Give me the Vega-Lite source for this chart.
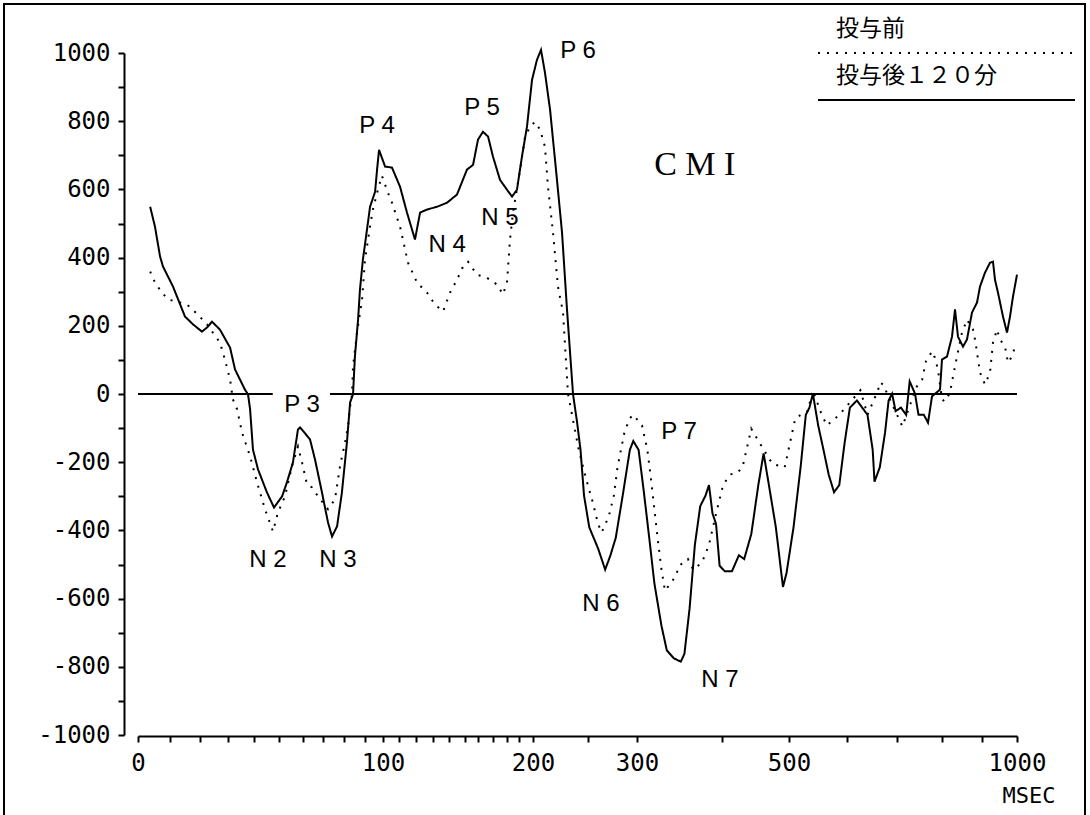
{
  "$schema": "https://vega.github.io/schema/vega-lite/v6.json",
  "width": 1081,
  "height": 820,
  "autosize": {"type": "none"},
  "padding": {"left": 4, "top": 4, "right": 5, "bottom": 0},
  "background": "white",
  "config": {
    "view": {"stroke": "#000", "strokeWidth": 2},
    "axis": {"grid": false}
  },
  "datasets": {
    "curves": [
      {"t":3.8,"v":549,"s":"投与後１２０分"},{"t":5.3,"v":491,"s":"投与後１２０分"},{"t":6.9,"v":403,"s":"投与後１２０分"},{"t":7.8,"v":374,"s":"投与後１２０分"},{"t":11,"v":315,"s":"投与後１２０分"},{"t":15,"v":227,"s":"投与後１２０分"},{"t":17.7,"v":204,"s":"投与後１２０分"},{"t":20.7,"v":183,"s":"投与後１２０分"},{"t":22.5,"v":195,"s":"投与後１２０分"},{"t":24.3,"v":212,"s":"投与後１２０分"},{"t":27.1,"v":189,"s":"投与後１２０分"},{"t":30.8,"v":136,"s":"投与後１２０分"},{"t":32.7,"v":72,"s":"投与後１２０分"},{"t":36.5,"v":13,"s":"投与後１２０分"},{"t":37.7,"v":-1,"s":"投与後１２０分"},{"t":38.5,"v":-45,"s":"投与後１２０分"},{"t":39.6,"v":-163,"s":"投与後１２０分"},{"t":41.6,"v":-221,"s":"投与後１２０分"},{"t":45.2,"v":-289,"s":"投与後１２０分"},{"t":48,"v":-333,"s":"投与後１２０分"},{"t":51.3,"v":-300,"s":"投与後１２０分"},{"t":53.3,"v":-259,"s":"投与後１２０分"},{"t":55.8,"v":-201,"s":"投与後１２０分"},{"t":57.9,"v":-104,"s":"投与後１２０分"},{"t":58.8,"v":-98,"s":"投与後１２０分"},{"t":63.5,"v":-133,"s":"投与後１２０分"},{"t":66,"v":-192,"s":"投与後１２０分"},{"t":69.5,"v":-289,"s":"投与後１２０分"},{"t":72.4,"v":-377,"s":"投与後１２０分"},{"t":74.3,"v":-418,"s":"投与後１２０分"},{"t":76.7,"v":-388,"s":"投与後１２０分"},{"t":79,"v":-289,"s":"投与後１２０分"},{"t":81.4,"v":-142,"s":"投与後１２０分"},{"t":82.9,"v":-25,"s":"投与後１２０分"},{"t":84.3,"v":-1,"s":"投与後１２０分"},{"t":85.2,"v":110,"s":"投与後１２０分"},{"t":86.7,"v":218,"s":"投与後１２０分"},{"t":87.6,"v":306,"s":"投与後１２０分"},{"t":89,"v":394,"s":"投与後１２０分"},{"t":91.1,"v":482,"s":"投与後１２０分"},{"t":92.8,"v":549,"s":"投与後１２０分"},{"t":95.6,"v":593,"s":"投与後１２０分"},{"t":96.7,"v":658,"s":"投与後１２０分"},{"t":97.8,"v":716,"s":"投与後１２０分"},{"t":101.3,"v":667,"s":"投与後１２０分"},{"t":105.6,"v":664,"s":"投与後１２０分"},{"t":110.6,"v":608,"s":"投与後１２０分"},{"t":114.7,"v":532,"s":"投与後１２０分"},{"t":119.4,"v":453,"s":"投与後１２０分"},{"t":122.4,"v":532,"s":"投与後１２０分"},{"t":126.5,"v":541,"s":"投与後１２０分"},{"t":132.5,"v":549,"s":"投与後１２０分"},{"t":138.8,"v":561,"s":"投与後１２０分"},{"t":145,"v":585,"s":"投与後１２０分"},{"t":151.5,"v":658,"s":"投与後１２０分"},{"t":156.2,"v":672,"s":"投与後１２０分"},{"t":160,"v":746,"s":"投与後１２０分"},{"t":163.3,"v":769,"s":"投与後１２０分"},{"t":166.7,"v":755,"s":"投与後１２０分"},{"t":170,"v":696,"s":"投与後１２０分"},{"t":175,"v":628,"s":"投与後１２０分"},{"t":180,"v":599,"s":"投与後１２０分"},{"t":184.2,"v":579,"s":"投与後１２０分"},{"t":188.3,"v":599,"s":"投与後１２０分"},{"t":192.1,"v":696,"s":"投与後１２０分"},{"t":195.7,"v":784,"s":"投与後１２０分"},{"t":199.3,"v":921,"s":"投与後１２０分"},{"t":203.6,"v":980,"s":"投与後１２０分"},{"t":207.3,"v":1009,"s":"投与後１２０分"},{"t":210.9,"v":942,"s":"投与後１２０分"},{"t":215.5,"v":834,"s":"投与後１２０分"},{"t":221.8,"v":628,"s":"投与後１２０分"},{"t":226.4,"v":473,"s":"投与後１２０分"},{"t":230.9,"v":248,"s":"投与後１２０分"},{"t":236.4,"v":-1,"s":"投与後１２０分"},{"t":240,"v":-81,"s":"投与後１２０分"},{"t":243.2,"v":-164,"s":"投与後１２０分"},{"t":246.4,"v":-298,"s":"投与後１２０分"},{"t":251.3,"v":-391,"s":"投与後１２０分"},{"t":260.3,"v":-453,"s":"投与後１２０分"},{"t":267.5,"v":-515,"s":"投与後１２０分"},{"t":272.9,"v":-473,"s":"投与後１２０分"},{"t":278.3,"v":-422,"s":"投与後１２０分"},{"t":285.4,"v":-298,"s":"投与後１２０分"},{"t":292.7,"v":-164,"s":"投与後１２０分"},{"t":296.2,"v":-138,"s":"投与後１２０分"},{"t":301.9,"v":-164,"s":"投与後１２０分"},{"t":308.1,"v":-288,"s":"投与後１２０分"},{"t":314.4,"v":-422,"s":"投与後１２０分"},{"t":320.5,"v":-556,"s":"投与後１２０分"},{"t":328.8,"v":-680,"s":"投与後１２０分"},{"t":335.1,"v":-752,"s":"投与後１２０分"},{"t":343.3,"v":-775,"s":"投与後１２０分"},{"t":351.5,"v":-785,"s":"投与後１２０分"},{"t":355.8,"v":-762,"s":"投与後１２０分"},{"t":361.9,"v":-628,"s":"投与後１２０分"},{"t":368.1,"v":-442,"s":"投与後１２０分"},{"t":374.4,"v":-329,"s":"投与後１２０分"},{"t":380.6,"v":-298,"s":"投与後１２０分"},{"t":384.7,"v":-267,"s":"投与後１２０分"},{"t":388.8,"v":-350,"s":"投与後１２０分"},{"t":393,"v":-381,"s":"投与後１２０分"},{"t":397.2,"v":-504,"s":"投与後１２０分"},{"t":404.3,"v":-520,"s":"投与後１２０分"},{"t":414.8,"v":-520,"s":"投与後１２０分"},{"t":425.2,"v":-473,"s":"投与後１２０分"},{"t":433.1,"v":-484,"s":"投与後１２０分"},{"t":443.7,"v":-411,"s":"投与後１２０分"},{"t":454.2,"v":-267,"s":"投与後１２０分"},{"t":462.1,"v":-174,"s":"投与後１２０分"},{"t":470,"v":-267,"s":"投与後１２０分"},{"t":480.4,"v":-391,"s":"投与後１２０分"},{"t":491,"v":-566,"s":"投与後１２０分"},{"t":496.3,"v":-525,"s":"投与後１２０分"},{"t":507.8,"v":-391,"s":"投与後１２０分"},{"t":520,"v":-215,"s":"投与後１２０分"},{"t":529,"v":-61,"s":"投与後１２０分"},{"t":535.2,"v":-40,"s":"投与後１２０分"},{"t":541.2,"v":1,"s":"投与後１２０分"},{"t":550.3,"v":-92,"s":"投与後１２０分"},{"t":559.5,"v":-164,"s":"投与後１２０分"},{"t":568.4,"v":-236,"s":"投与後１２０分"},{"t":577.6,"v":-288,"s":"投与後１２０分"},{"t":586.7,"v":-267,"s":"投与後１２０分"},{"t":595.9,"v":-143,"s":"投与後１２０分"},{"t":605.8,"v":-40,"s":"投与後１２０分"},{"t":619.8,"v":-19,"s":"投与後１２０分"},{"t":630.4,"v":-40,"s":"投与後１２０分"},{"t":641,"v":-61,"s":"投与後１２０分"},{"t":651.4,"v":-164,"s":"投与後１２０分"},{"t":655,"v":-257,"s":"投与後１２０分"},{"t":665.6,"v":-215,"s":"投与後１２０分"},{"t":676.2,"v":-112,"s":"投与後１２０分"},{"t":683.2,"v":-19,"s":"投与後１２０分"},{"t":690.2,"v":1,"s":"投与後１２０分"},{"t":697.2,"v":-50,"s":"投与後１２０分"},{"t":708.7,"v":-40,"s":"投与後１２０分"},{"t":720.4,"v":-61,"s":"投与後１２０分"},{"t":728.2,"v":37,"s":"投与後１２０分"},{"t":740,"v":1,"s":"投与後１２０分"},{"t":747.8,"v":-61,"s":"投与後１２０分"},{"t":759.6,"v":-61,"s":"投与後１２０分"},{"t":768.9,"v":-84,"s":"投与後１２０分"},{"t":777.8,"v":-7,"s":"投与後１２０分"},{"t":795.6,"v":13,"s":"投与後１２０分"},{"t":800,"v":101,"s":"投与後１２０分"},{"t":812.5,"v":110,"s":"投与後１２０分"},{"t":825,"v":168,"s":"投与後１２０分"},{"t":832.5,"v":248,"s":"投与後１２０分"},{"t":840,"v":168,"s":"投与後１２０分"},{"t":852.5,"v":139,"s":"投与後１２０分"},{"t":862.5,"v":160,"s":"投与後１２０分"},{"t":875,"v":239,"s":"投与後１２０分"},{"t":887.5,"v":268,"s":"投与後１２０分"},{"t":895,"v":315,"s":"投与後１２０分"},{"t":908.6,"v":356,"s":"投与後１２０分"},{"t":922.9,"v":385,"s":"投与後１２０分"},{"t":931.4,"v":388,"s":"投与後１２０分"},{"t":937.1,"v":335,"s":"投与後１２０分"},{"t":945.7,"v":297,"s":"投与後１２０分"},{"t":960,"v":227,"s":"投与後１２０分"},{"t":971.4,"v":180,"s":"投与後１２０分"},{"t":980,"v":227,"s":"投与後１２０分"},{"t":988.6,"v":286,"s":"投与後１２０分"},{"t":1000,"v":350,"s":"投与後１２０分"},
      {"t":3.8,"v":359,"s":"投与前"},{"t":5.3,"v":327,"s":"投与前"},{"t":7.5,"v":297,"s":"投与前"},{"t":9.4,"v":277,"s":"投与前"},{"t":12.3,"v":271,"s":"投与前"},{"t":15.7,"v":262,"s":"投与前"},{"t":19.3,"v":233,"s":"投与前"},{"t":22.5,"v":204,"s":"投与前"},{"t":24.6,"v":180,"s":"投与前"},{"t":27.1,"v":151,"s":"投与前"},{"t":28.9,"v":101,"s":"投与前"},{"t":30.8,"v":42,"s":"投与前"},{"t":31.9,"v":-16,"s":"投与前"},{"t":33.5,"v":-45,"s":"投与前"},{"t":35.4,"v":-113,"s":"投与前"},{"t":38.5,"v":-183,"s":"投与前"},{"t":41.2,"v":-259,"s":"投与前"},{"t":44.4,"v":-338,"s":"投与前"},{"t":47.6,"v":-403,"s":"投与前"},{"t":49.6,"v":-347,"s":"投与前"},{"t":52.5,"v":-300,"s":"投与前"},{"t":55.4,"v":-212,"s":"投与前"},{"t":57.9,"v":-154,"s":"投与前"},{"t":59.6,"v":-201,"s":"投与前"},{"t":62,"v":-265,"s":"投与前"},{"t":64.5,"v":-274,"s":"投与前"},{"t":67.5,"v":-300,"s":"投与前"},{"t":72.4,"v":-338,"s":"投与前"},{"t":75.7,"v":-309,"s":"投与前"},{"t":78.1,"v":-212,"s":"投与前"},{"t":80.5,"v":-142,"s":"投与前"},{"t":81.9,"v":-95,"s":"投与前"},{"t":82.9,"v":-37,"s":"投与前"},{"t":83.8,"v":-1,"s":"投与前"},{"t":84.3,"v":81,"s":"投与前"},{"t":86.2,"v":180,"s":"投与前"},{"t":88.6,"v":277,"s":"投与前"},{"t":90,"v":394,"s":"投与前"},{"t":92.8,"v":491,"s":"投与前"},{"t":94.4,"v":541,"s":"投与前"},{"t":96.7,"v":590,"s":"投与前"},{"t":99.4,"v":640,"s":"投与前"},{"t":103.1,"v":590,"s":"投与前"},{"t":105.6,"v":561,"s":"投与前"},{"t":110.6,"v":491,"s":"投与前"},{"t":115.3,"v":385,"s":"投与前"},{"t":120.6,"v":327,"s":"投与前"},{"t":126.5,"v":297,"s":"投与前"},{"t":131.3,"v":262,"s":"投与前"},{"t":136.3,"v":242,"s":"投与前"},{"t":140.6,"v":297,"s":"投与前"},{"t":145,"v":335,"s":"投与前"},{"t":148.8,"v":374,"s":"投与前"},{"t":152.3,"v":388,"s":"投与前"},{"t":159.2,"v":350,"s":"投与前"},{"t":165.9,"v":341,"s":"投与前"},{"t":172.9,"v":321,"s":"投与前"},{"t":177.1,"v":292,"s":"投与前"},{"t":180,"v":327,"s":"投与前"},{"t":182.5,"v":453,"s":"投与前"},{"t":185,"v":532,"s":"投与前"},{"t":190.8,"v":658,"s":"投与前"},{"t":194.3,"v":754,"s":"投与前"},{"t":197.9,"v":784,"s":"投与前"},{"t":201.8,"v":798,"s":"投与前"},{"t":206.4,"v":775,"s":"投与前"},{"t":210.9,"v":725,"s":"投与前"},{"t":213.6,"v":608,"s":"投与前"},{"t":218.2,"v":473,"s":"投与前"},{"t":222.7,"v":315,"s":"投与前"},{"t":227.3,"v":239,"s":"投与前"},{"t":231.8,"v":1,"s":"投与前"},{"t":241.6,"v":-164,"s":"投与前"},{"t":248,"v":-246,"s":"投与前"},{"t":254.9,"v":-318,"s":"投与前"},{"t":260.3,"v":-381,"s":"投与前"},{"t":263.9,"v":-406,"s":"投与前"},{"t":271.1,"v":-360,"s":"投与前"},{"t":276.4,"v":-298,"s":"投与前"},{"t":280.1,"v":-215,"s":"投与前"},{"t":287.2,"v":-112,"s":"投与前"},{"t":292.7,"v":-71,"s":"投与前"},{"t":296.2,"v":-61,"s":"投与前"},{"t":305.9,"v":-92,"s":"投与前"},{"t":312.2,"v":-164,"s":"投与前"},{"t":316.3,"v":-246,"s":"投与前"},{"t":320.5,"v":-339,"s":"投与前"},{"t":324.7,"v":-432,"s":"投与前"},{"t":328.8,"v":-515,"s":"投与前"},{"t":332.9,"v":-577,"s":"投与前"},{"t":339.2,"v":-556,"s":"投与前"},{"t":345.4,"v":-535,"s":"投与前"},{"t":349.5,"v":-504,"s":"投与前"},{"t":359.9,"v":-484,"s":"投与前"},{"t":366.1,"v":-515,"s":"投与前"},{"t":376.5,"v":-494,"s":"投与前"},{"t":384.7,"v":-442,"s":"投与前"},{"t":393.1,"v":-350,"s":"投与前"},{"t":401.6,"v":-267,"s":"投与前"},{"t":412.1,"v":-236,"s":"投与前"},{"t":422.7,"v":-231,"s":"投与前"},{"t":430.6,"v":-215,"s":"投与前"},{"t":443.7,"v":-102,"s":"投与前"},{"t":459.4,"v":-154,"s":"投与前"},{"t":475.2,"v":-205,"s":"投与前"},{"t":493.6,"v":-215,"s":"投与前"},{"t":510.9,"v":-71,"s":"投与前"},{"t":532.1,"v":-50,"s":"投与前"},{"t":541.2,"v":11,"s":"投与前"},{"t":556.4,"v":-61,"s":"投与前"},{"t":565.5,"v":-92,"s":"投与前"},{"t":586.7,"v":-61,"s":"投与前"},{"t":609.2,"v":-19,"s":"投与前"},{"t":626.8,"v":11,"s":"投与前"},{"t":641,"v":-61,"s":"投与前"},{"t":662,"v":11,"s":"投与前"},{"t":666,"v":34,"s":"投与前"},{"t":672,"v":28,"s":"投与前"},{"t":712,"v":-95,"s":"投与前"},{"t":731,"v":-25,"s":"投与前"},{"t":744,"v":22,"s":"投与前"},{"t":756,"v":42,"s":"投与前"},{"t":764,"v":95,"s":"投与前"},{"t":778,"v":125,"s":"投与前"},{"t":784,"v":107,"s":"投与前"},{"t":791,"v":72,"s":"投与前"},{"t":800,"v":-16,"s":"投与前"},{"t":807.5,"v":-22,"s":"投与前"},{"t":820,"v":4,"s":"投与前"},{"t":827.5,"v":51,"s":"投与前"},{"t":837.5,"v":110,"s":"投与前"},{"t":850,"v":180,"s":"投与前"},{"t":862.5,"v":218,"s":"投与前"},{"t":877.5,"v":189,"s":"投与前"},{"t":882.5,"v":160,"s":"投与前"},{"t":887.5,"v":122,"s":"投与前"},{"t":895,"v":63,"s":"投与前"},{"t":908.6,"v":28,"s":"投与前"},{"t":922.9,"v":63,"s":"投与前"},{"t":931.4,"v":151,"s":"投与前"},{"t":942.9,"v":189,"s":"投与前"},{"t":951.4,"v":160,"s":"投与前"},{"t":965.7,"v":139,"s":"投与前"},{"t":974.3,"v":92,"s":"投与前"},{"t":985.7,"v":110,"s":"投与前"},{"t":994.3,"v":139,"s":"投与前"}
    ],
    "zero": [{"t": 0, "t2": 47.5, "v": 0}, {"t": 73.3, "t2": 1000, "v": 0}],
    "peaks": [
      {"t": 59.6, "v": -54, "label": "P 3"},
      {"t": 45.6, "v": -508, "label": "N 2"},
      {"t": 77.1, "v": -508, "label": "N 3"},
      {"t": 96.7, "v": 766, "label": "P 4"},
      {"t": 162.7, "v": 819, "label": "P 5"},
      {"t": 240.9, "v": 986, "label": "P 6"},
      {"t": 138.8, "v": 415, "label": "N 4"},
      {"t": 175, "v": 497, "label": "N 5"},
      {"t": 349.4, "v": -133, "label": "P 7"},
      {"t": 263.3, "v": -637, "label": "N 6"},
      {"t": 397.6, "v": -860, "label": "N 7"}
    ],
    "title": [{"t": 368, "v": 643, "label": "C M I"}]
  },
  "encoding": {
    "x": {
      "field": "t", "type": "quantitative",
      "scale": {"domain": [0,10,20,30,40,50,60,70,80,90,100,110,120,130,140,150,160,170,180,190,200,250,300,400,500,600,700,800,900,1000],
                "range": [134,166,196,224,250,275,299,319,340,361,379,395,412,429,445,461,474,489,503,515,529,584,633,718,785,843,893,938,978,1013],
                "nice": false, "zero": false},
      "axis": {
        "title": "MSEC", "offset": -88, "orient": "bottom",
        "values": [0,10,20,30,40,50,60,70,80,90,100,110,120,130,140,150,160,170,180,190,200,250,300,400,500,600,700,800,900,1000],
        "labelExpr": "datum.value == 0 || datum.value == 100 || datum.value == 200 || datum.value == 300 || datum.value == 500 || datum.value == 1000 ? '' + datum.value : ''",
        "labelOverlap": false, "labelFlush": false,
        "domainColor": "#000", "domainWidth": 2,
        "tickColor": "#000", "tickWidth": 2, "tickSize": 6,
        "labelFont": "DejaVu Sans Mono", "labelFontSize": 24, "labelColor": "#000",
        "labelPadding": 9, "labelBaseline": "top",
        "titleFont": "DejaVu Sans Mono", "titleFontSize": 22, "titleFontWeight": "normal", "titleColor": "#000",
        "titleAlign": "right", "titleBaseline": "top", "titleX": 1051, "titleY": 49,
        "encode": {"ticks": {"update": {
          "y": {"signal": "datum.value % 50 == 0 ? -6 : 0"},
          "y2": {"signal": "datum.value % 50 == 0 ? 6 : 5"}
        }}}
      }
    },
    "y": {
      "field": "v", "type": "quantitative",
      "scale": {"domain": [-1000, 1000], "range": [731, 49], "nice": false, "zero": false},
      "axis": {
        "title": null, "offset": -120, "orient": "left",
        "values": [-1000,-900,-800,-700,-600,-500,-400,-300,-200,-100,0,100,200,300,400,500,600,700,800,900,1000],
        "labelExpr": "datum.value % 200 == 0 ? '' + datum.value : ''",
        "labelOverlap": false, "labelFlush": false,
        "domainColor": "#000", "domainWidth": 2,
        "tickColor": "#000", "tickWidth": 2, "tickSize": 6,
        "labelFont": "DejaVu Sans Mono", "labelFontSize": 24, "labelColor": "#000",
        "labelPadding": 8,
        "encode": {"ticks": {"update": {
          "x": {"signal": "datum.value % 200 == 0 ? 4 : 3"},
          "x2": {"signal": "datum.value % 200 == 0 ? -6 : -3"}
        }}}
      }
    }
  },
  "layer": [
    {
      "data": {"name": "curves"},
      "mark": {"type": "line", "color": "#000", "strokeWidth": 2, "interpolate": "linear"},
      "encoding": {
        "strokeDash": {
          "field": "s", "type": "nominal",
          "scale": {"domain": ["投与前", "投与後１２０分"], "range": [[2, 7], [1, 0]]},
          "legend": {
            "orient": "none", "legendX": 814, "legendY": 6, "title": null,
            "symbolType": "M-7.343,1.4H7.343", "symbolSize": 1225, "symbolStrokeWidth": 2, "symbolStrokeColor": "#000",
            "symbolOffset": 110,
            "labelFont": "Noto Sans CJK JP", "labelFontSize": 23, "labelColor": "#000", "labelLimit": 400,
            "labelOffset": -129, "labelBaseline": "middle",
            "rowPadding": 0, "padding": 0
          }
        }
      }
    },
    {
      "data": {"name": "zero"},
      "mark": {"type": "rule", "color": "#000", "strokeWidth": 2},
      "encoding": {
        "x2": {"field": "t2"}
      }
    },
    {
      "data": {"name": "peaks"},
      "mark": {"type": "text", "font": "Liberation Sans", "fontSize": 24, "color": "#000", "align": "center", "baseline": "alphabetic"},
      "encoding": {
        "text": {"field": "label"}
      }
    },
    {
      "data": {"name": "title"},
      "mark": {"type": "text", "font": "Liberation Serif", "fontSize": 34, "color": "#000", "align": "center", "baseline": "alphabetic"},
      "encoding": {
        "text": {"field": "label"}
      }
    }
  ]
}
